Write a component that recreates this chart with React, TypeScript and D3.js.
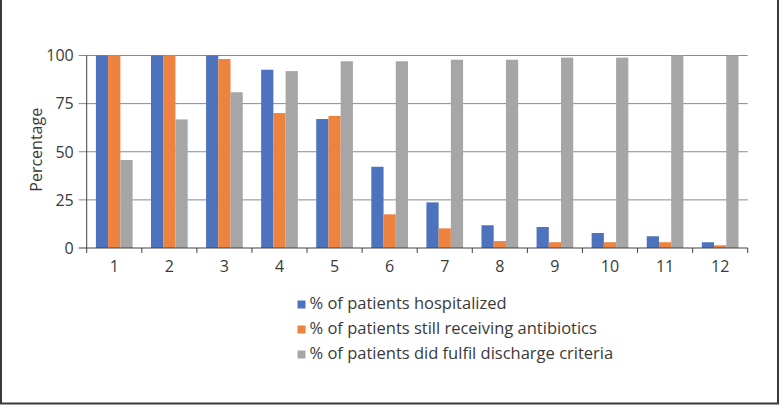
import React from "react";
import * as d3 from "d3";

const categories = ["1", "2", "3", "4", "5", "6", "7", "8", "9", "10", "11", "12"];
const hospitalized = [100, 100, 100, 92.6, 67, 42.2, 23.7, 11.8, 10.9, 7.8, 6.1, 3];
const antibiotics = [100, 100, 98.2, 70.1, 68.6, 17.5, 10.2, 3.6, 3, 3, 3, 1.4];
const discharge = [45.7, 66.8, 80.9, 91.9, 97, 97, 97.8, 97.8, 98.9, 98.9, 100, 100];
const yTicks = [0, 25, 50, 75, 100];
const seriesNames = [
  "% of patients hospitalized",
  "% of patients still receiving antibiotics",
  "% of patients did fulfil discharge criteria",
];
const colors = ["#4E73BE", "#EE8340", "#A6A6A6"];

export default function App() {
  const W = 779, H = 405;
  const left = 86.7, right = 747.7, top = 55.5, bottom = 248;
  const font = "'Open Sans', 'Noto Sans', sans-serif";
  const x = d3.scaleBand<string>().domain(categories).range([left, right]).paddingInner(0.334).paddingOuter(0.167);
  const sub = d3.scaleBand<number>().domain([0, 1, 2]).range([0, x.bandwidth()]);
  const y = d3.scaleLinear().domain([0, 100]).range([bottom, top]);
  const series = [hospitalized, antibiotics, discharge];
  const step = (right - left) / categories.length;
  const boundaries = d3.range(categories.length + 1).map((i) => left + i * step);
  const textColor = "#3a3a3a";
  const fs = 16;

  return (
    <svg width={W} height={H} style={{ position: "absolute", left: 0, top: 0, background: "#fff" }}>
      <rect x={0} y={0} width={W} height={H} fill="#fff" />
      {/* border */}
      <line x1={1} y1={0} x2={1} y2={404} stroke="#3a3a3a" strokeWidth={2} />
      <line x1={778} y1={0} x2={778} y2={404} stroke="#3a3a3a" strokeWidth={2} />
      <line x1={0} y1={403.5} x2={779} y2={403.5} stroke="#3a3a3a" strokeWidth={2} />
      {/* gridlines */}
      {yTicks.filter((t) => t > 0).map((t) => (
        <line key={t} x1={left - 8} x2={right} y1={y(t)} y2={y(t)} stroke="#8a8a8a" strokeWidth={1} />
      ))}
      {/* bars */}
      {series.map((vals, si) =>
        vals.map((v, i) => (
          <rect
            key={si + "-" + i}
            x={(x(categories[i]) as number) + (sub(si) as number)}
            y={y(v)}
            width={sub.bandwidth()}
            height={bottom - y(v)}
            fill={colors[si]}
          />
        ))
      )}
      {/* y axis */}
      <line x1={left} x2={left} y1={top} y2={bottom} stroke="#404040" strokeWidth={1} />
      <line x1={left - 8} x2={left} y1={bottom} y2={bottom} stroke="#404040" strokeWidth={1} />
      {yTicks.map((t) => (
        <text key={t} x={left - 13} y={y(t)} dy="0.36em" textAnchor="end" fontFamily={font} fontSize={fs} fill={textColor}>
          {t}
        </text>
      ))}
      {/* x axis */}
      <line x1={left} x2={right} y1={bottom} y2={bottom} stroke="#404040" strokeWidth={1.2} />
      {boundaries.map((b, i) => (
        <line key={i} x1={b} x2={b} y1={bottom} y2={bottom + 5} stroke="#404040" strokeWidth={1} />
      ))}
      {categories.map((c) => (
        <text key={c} x={(x(c) as number) + x.bandwidth() / 2} y={272} textAnchor="middle" fontFamily={font} fontSize={fs} fill={textColor}>
          {c}
        </text>
      ))}
      <text transform={`translate(42,${(top + bottom) / 2 - 2}) rotate(-90)`} textAnchor="middle" fontFamily={font} fontSize={16} fill={textColor}>
        Percentage
      </text>
      {/* legend */}
      {seriesNames.map((n, i) => (
        <g key={n} transform={`translate(297.5,${304.5 + i * 25})`}>
          <rect x={0} y={-4} width={8} height={8} fill={colors[i]} />
          <text x={12} y={4} fontFamily={font} fontSize={16.5} fill={textColor}>
            {n}
          </text>
        </g>
      ))}
    </svg>
  );
}
